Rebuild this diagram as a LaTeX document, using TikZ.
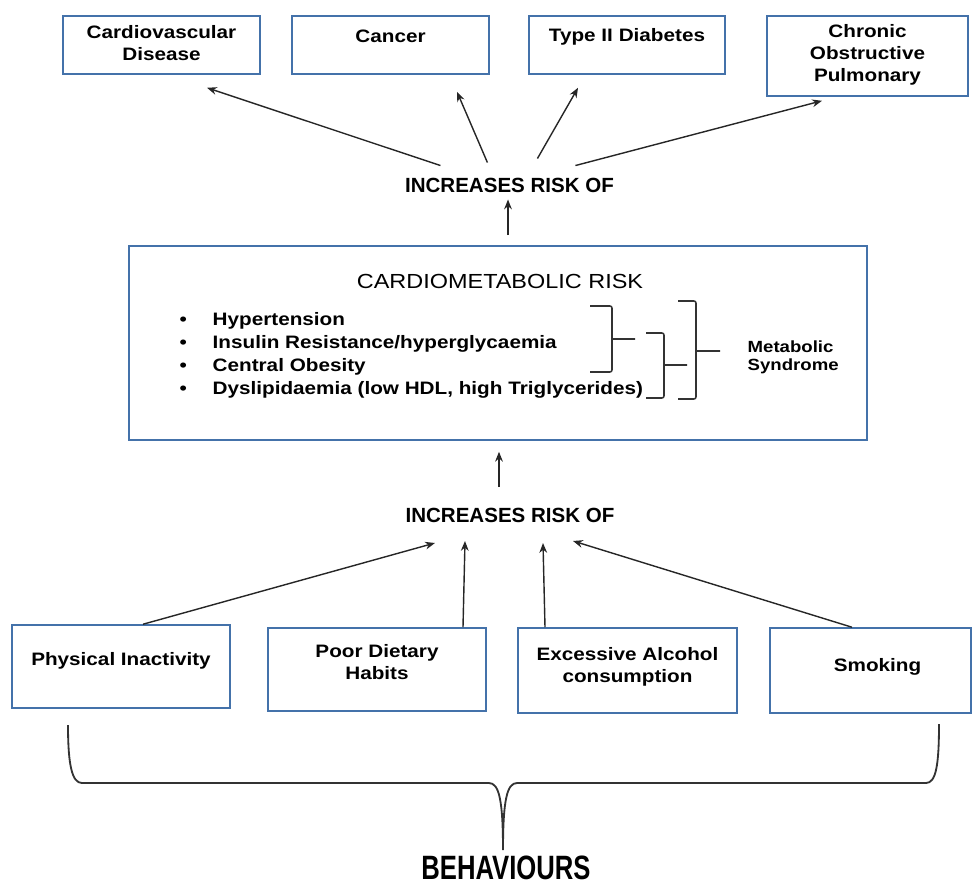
\documentclass[tikz,border=0pt]{standalone}
\usepackage{fontspec}
\setmainfont{Liberation Sans}
\newfontfamily\wideSans{Liberation Sans}[FakeStretch=1.15]
\newfontfamily\tallSans{Liberation Sans}[FakeStretch=0.76]
\usepackage{tikz}
\usetikzlibrary{arrows.meta, positioning}
\definecolor{colorBox}{RGB}{68,114,170}
\colorlet{colorArrow}{black!85}
\newlength{\pxu}
\setlength{\pxu}{0.025cm}
\tikzset{box/.style={draw=colorBox, line width=1.1pt, minimum width=218\pxu, minimum height=83\pxu, inner sep=0pt}}
\tikzset{boxtext/.style={font=\fontsize{12.8}{15.6}\wideSans\bfseries, align=center, inner sep=0pt, anchor=north}}
\tikzset{risktext/.style={font=\fontsize{14.6}{17}\selectfont\bfseries, inner sep=0pt}}
\tikzset{bracket/.style={draw=black!80, line width=1.1pt, rounded corners=1.5pt}}

\begin{document}
\begin{tikzpicture}[>={Stealth[length=7pt, width=5.5pt]}, x=0.025cm, y=-0.025cm, line width=1pt]
\useasboundingbox (0,0) rectangle (973,884);
% diseases
\node[box, minimum width=197\pxu, minimum height=58\pxu, label={[boxtext, yshift=-10\pxu]north:{Cardiovascular\\Disease}}] (cvd) at (161.5,45) {};
\node[box, minimum width=197\pxu, minimum height=58\pxu, label={[boxtext, yshift=-14\pxu]north:{Cancer}}] (cancer) at (390.5,45) {};
\node[box, minimum width=196\pxu, minimum height=58\pxu, label={[boxtext, yshift=-13\pxu]north:{Type II Diabetes}}] (diab) at (627,45) {};
\node[box, minimum width=201\pxu, minimum height=80\pxu, label={[boxtext, yshift=-9\pxu]north:{Chronic\\Obstructive\\Pulmonary}}] (copd) at (867.5,56) {};
\node[risktext] (risktop) at (509.5,185.5) {INCREASES RISK OF};
% cardiometabolic risk
\node[box, minimum width=738\pxu, minimum height=194\pxu] (cardio) at (498,343) {};
\node[font=\fontsize{14.5}{16}\wideSans, inner sep=0pt] (cardtitle) at (500,281) {CARDIOMETABOLIC RISK};
\node[font=\fontsize{12.8}{16.4}\wideSans\bfseries, align=left, anchor=north west, inner sep=0pt] (riskitems) at (179,312) {\makebox[33\pxu][l]{\textbullet}Hypertension\\\makebox[33\pxu][l]{\textbullet}Insulin Resistance/hyperglycaemia\\\makebox[33\pxu][l]{\textbullet}Central Obesity\\\makebox[33\pxu][l]{\textbullet}Dyslipidaemia (low HDL, high Triglycerides)};
\node[font=\fontsize{11.5}{13.2}\wideSans\bfseries, align=left, anchor=north west, inner sep=0pt] (metsyn) at (747,340) {Metabolic\\Syndrome};
\draw[bracket] (590,306) -- (612,306) -- (612,372) -- (590,372) (612,339) -- (635,339);
\draw[bracket] (646,333) -- (664,333) -- (664,398) -- (646,398) (664,365) -- (687,365);
\draw[bracket] (678,301) -- (696,301) -- (696,399) -- (678,399) (696,351) -- (720,351);
\node[risktext] (riskbot) at (510,515) {INCREASES RISK OF};
% behaviours
\node[box, label={[boxtext, yshift=-28\pxu]north:{Physical Inactivity}}] (phys) at (121,666.5) {};
\node[box, label={[boxtext, yshift=-17\pxu]north:{Poor Dietary\\Habits}}] (diet) at (377,669.5) {};
\node[box, minimum width=219\pxu, minimum height=85\pxu, label={[boxtext, yshift=-20\pxu]north:{Excessive Alcohol\\consumption}}] (alcohol) at (627.5,670.5) {};
\node[box, minimum width=201\pxu, minimum height=85\pxu, label={[boxtext, yshift=-31\pxu, xshift=7\pxu]north:{Smoking}}] (smoke) at (870.5,670.5) {};
\node[font=\fontsize{24}{28}\tallSans\bfseries, anchor=base, inner sep=0pt] (behav) at (506,879) {BEHAVIOURS};
% arrows
\draw[->, colorArrow] ([shift={(36,-12)}]risktop.north west) -- ([shift={(45.5,13)}]cvd.south);
\draw[->, colorArrow] ([shift={(83,-15)}]risktop.north west) -- ([shift={(66.5,17)}]cancer.south);
\draw[->, colorArrow] ([shift={(133,-19)}]risktop.north west) -- ([shift={(-49,13)}]diab.south);
\draw[->, colorArrow] ([shift={(171,-12)}]risktop.north west) -- ([shift={(-45.5,4)}]copd.south);
\draw[->, colorArrow] ([shift={(10,-10)}]cardio.north) -- ([shift={(-1.5,6)}]risktop.south);
\draw[->, colorArrow] ([shift={(-11,-20)}]riskbot.north) -- ([shift={(1,11)}]cardio.south);
\draw[->, colorArrow] ([shift={(22,0)}]phys.north) -- ([shift={(-75,20)}]riskbot.south);
\draw[->, colorArrow] ([shift={(86,0)}]diet.north) -- ([shift={(-45,18)}]riskbot.south);
\draw[->, colorArrow] ([shift={(-82.5,0)}]alcohol.north) -- ([shift={(33,20)}]riskbot.south);
\draw[->, colorArrow] ([shift={(-18.5,0)}]smoke.north) -- ([shift={(63,18)}]riskbot.south);
% brace under behaviours
\draw[black!80, line width=1.3pt] (68,725) .. controls (68,765) and (72,783) .. (82,783) -- (489,783) .. controls (499,783) and (503,800) .. (503,850) .. controls (503,800) and (507,783) .. (517,783) -- (926,783) .. controls (936,783) and (939,765) .. (939,724);
\end{tikzpicture}
\end{document}
